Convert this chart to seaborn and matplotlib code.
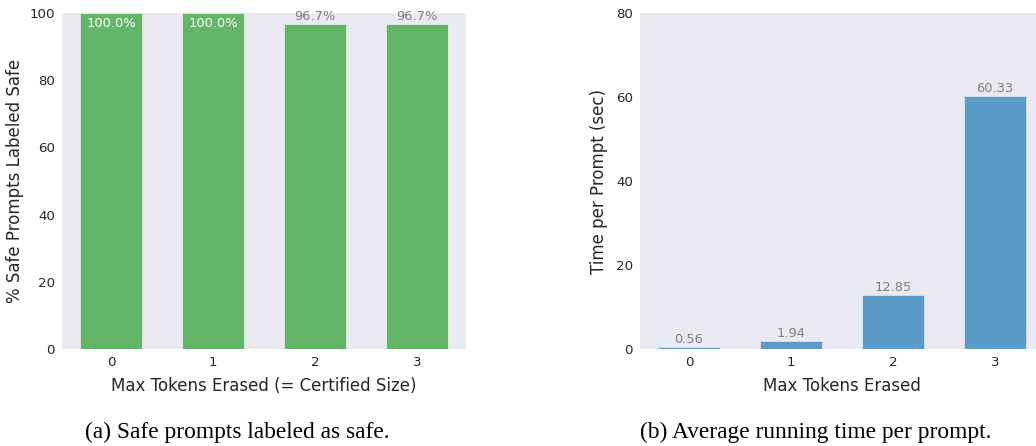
import matplotlib
matplotlib.use("Agg")
import matplotlib.pyplot as plt
import seaborn as sns
import pandas as pd

# ---- data ----
tokens_erased = [0, 1, 2, 3]
pct_safe = [100.0, 100.0, 96.7, 96.7]
time_per_prompt = [0.56, 1.94, 12.85, 60.33]
left_xlabel = "Max Tokens Erased (= Certified Size)"
left_ylabel = "% Safe Prompts Labeled Safe"
right_xlabel = "Max Tokens Erased"
right_ylabel = "Time per Prompt (sec)"
caption_a = "(a) Safe prompts labeled as safe."
caption_b = "(b) Average running time per prompt."

sns.set_theme(style="dark")
plt.rcParams["font.family"] = ["DejaVu Sans"]

W, H = 1036, 446
fig = plt.figure(figsize=(W / 100, H / 100), dpi=100)

def px_axes(x0, y_top, w, h):
    return fig.add_axes([x0 / W, (H - y_top - h) / H, w / W, h / H])

ax1 = px_axes(62, 13, 404, 336)
ax2 = px_axes(640, 13, 404, 336)

green = "#63B667"
blue = "#5B9BC8"
gray = "#808080"

df1 = pd.DataFrame({"k": tokens_erased, "v": pct_safe})
df2 = pd.DataFrame({"k": tokens_erased, "v": time_per_prompt})

sns.barplot(data=df1, x="k", y="v", ax=ax1, color=green, width=0.6,
            saturation=1, linewidth=0.6, edgecolor="#dfeedd")
sns.barplot(data=df2, x="k", y="v", ax=ax2, color=blue, width=0.6,
            saturation=1, linewidth=0.6, edgecolor="#d6e5f1")

for ax in (ax1, ax2):
    ax.set_facecolor("#EAEAF2")
    for s in ax.spines.values():
        s.set_visible(False)
    ax.grid(False)
    ax.set_xlim(-0.48, 3.48)
    ax.tick_params(axis="both", labelsize=9.6, colors="#262626", length=0, pad=5)

ax1.set_ylim(0, 100)
ax2.set_ylim(0, 80)
ax1.set_yticks([0, 20, 40, 60, 80, 100])
ax2.set_yticks([0, 20, 40, 60, 80])

ax1.set_xlabel(left_xlabel, fontsize=12, color="#262626", labelpad=6)
ax1.set_ylabel(left_ylabel, fontsize=12, color="#262626", labelpad=4)
ax2.set_xlabel(right_xlabel, fontsize=12, color="#262626", labelpad=6)
ax2.set_ylabel(right_ylabel, fontsize=12, color="#262626", labelpad=6)

# annotations
for p, v in zip(ax1.patches, pct_safe):
    cx = p.get_x() + p.get_width() / 2
    top = p.get_height()
    if v >= 99.95:
        ax1.annotate(f"{v:.1f}%", (cx, top), xytext=(0, -3), textcoords="offset points",
                     ha="center", va="top", fontsize=9.4, color="white")
    else:
        ax1.annotate(f"{v:.1f}%", (cx, top), xytext=(0, 0.5), textcoords="offset points",
                     ha="center", va="bottom", fontsize=9.4, color=gray,
                     annotation_clip=False)

for p, v in zip(ax2.patches, time_per_prompt):
    cx = p.get_x() + p.get_width() / 2
    ax2.annotate(f"{v:.2f}", (cx, p.get_height()), xytext=(0, 0.5), textcoords="offset points",
                 ha="center", va="bottom", fontsize=9.4, color=gray)

fig.text(237 / W, 1 - 432 / H, caption_a, ha="center", va="center",
         fontsize=16.8, family="Liberation Serif", color="black")
fig.text(816 / W, 1 - 432 / H, caption_b, ha="center", va="center",
         fontsize=16.8, family="Liberation Serif", color="black")

fig.savefig("out.png", dpi=100)
